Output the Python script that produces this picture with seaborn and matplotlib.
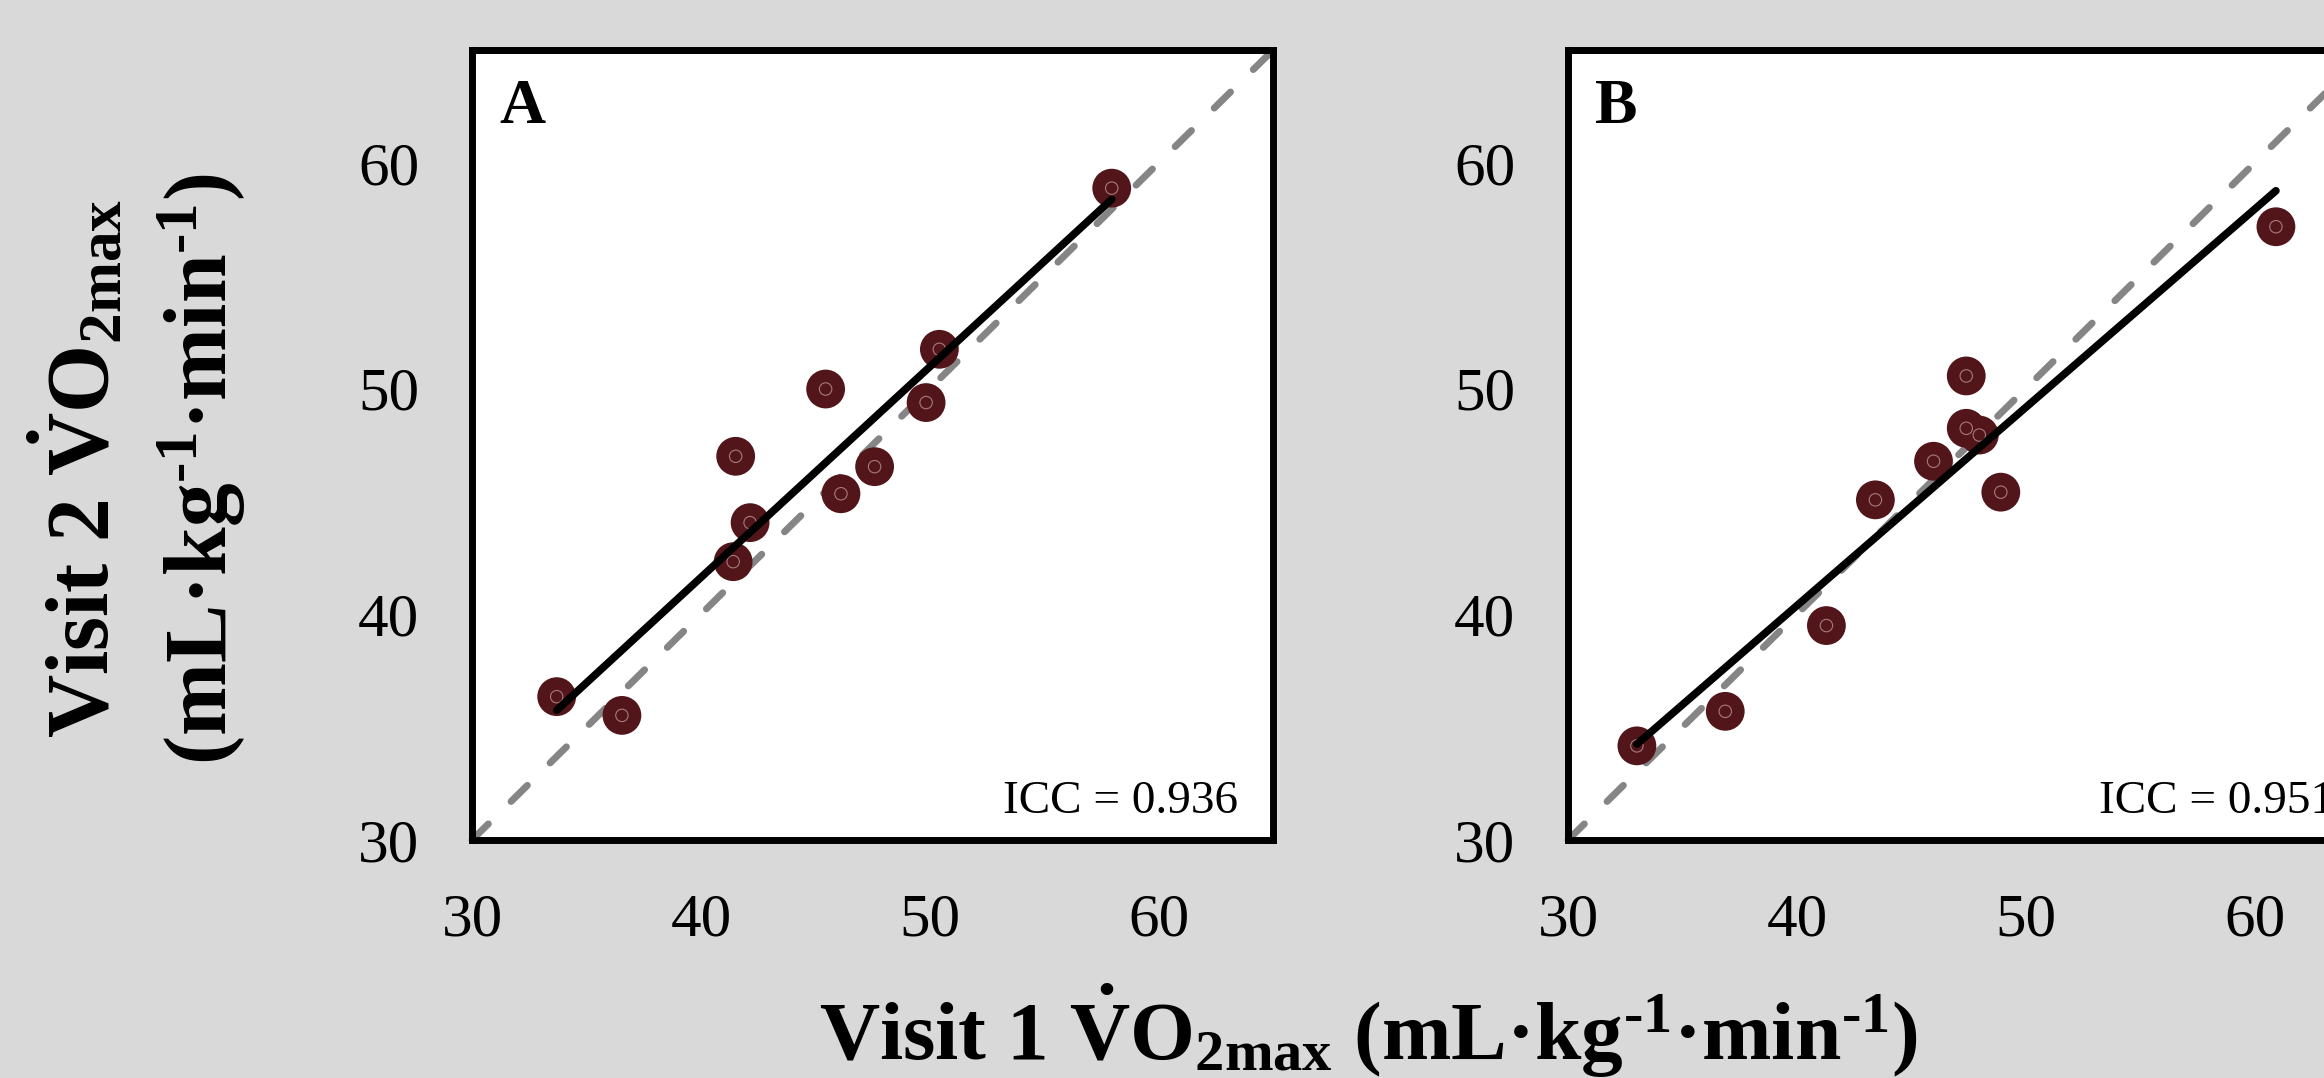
import numpy as np
import pandas as pd
import matplotlib
matplotlib.use('Agg')
import matplotlib.pyplot as plt
import seaborn as sns

# 两次测试的 VO2max 数据
visit1_a = [33.70, 36.55, 41.41, 42.15, 41.52, 45.45, 46.12, 47.59, 49.84, 50.42, 57.95]
visit2_a = [36.35, 35.52, 42.33, 44.06, 47.00, 49.98, 45.34, 46.54, 49.38, 51.74, 58.88]
visit1_b = [33.01, 36.87, 41.29, 43.43, 45.97, 47.40, 47.40, 47.97, 48.91, 60.93]
visit2_b = [34.17, 35.70, 39.50, 45.07, 46.78, 50.56, 48.24, 47.94, 45.41, 57.17]
panel_labels = ['A', 'B']
icc_values = ['0.936', '0.951']
tick_values = [30, 40, 50, 60]
axis_limits = [30, 65]

sns.set_style('white')
plt.rcParams['font.family'] = ['Liberation Serif', 'DejaVu Serif']
plt.rcParams['mathtext.fontset'] = 'custom'
plt.rcParams['mathtext.rm'] = 'Liberation Serif:bold'
plt.rcParams['mathtext.it'] = 'Liberation Serif:bold'
plt.rcParams['mathtext.bf'] = 'Liberation Serif:bold'
plt.rcParams['text.color'] = 'black'
plt.rcParams['xtick.color'] = 'black'
plt.rcParams['ytick.color'] = 'black'

marker_color = '#521519'
ring_color = '#a67a7e'
bg_color = '#d9d9d9'

fig = plt.figure(figsize=(23.24, 10.78), dpi=100, facecolor=bg_color)

panels = [
    (0.2031, visit1_a, visit2_a),
    (0.6747, visit1_b, visit2_b),
]

for i, (left, v1, v2) in enumerate(panels):
    df = pd.DataFrame({'v1': v1, 'v2': v2})
    ax = fig.add_axes([left, 0.2208, 0.3447, 0.7328])
    ax.set_facecolor('white')

    # 一致性参考线 y = x
    ax.plot(axis_limits, axis_limits, color='#858585', lw=5, dashes=(3.3, 4.6),
            dash_capstyle='round', zorder=1, clip_on=False)

    sns.scatterplot(data=df, x='v1', y='v2', s=780, color=marker_color,
                    edgecolor='none', linewidth=0, ax=ax, zorder=2, legend=False)
    ax.scatter(df['v1'], df['v2'], s=80, facecolors='none', edgecolors=ring_color,
               linewidths=0.8, zorder=2.1)

    # 线性回归线
    sns.regplot(data=df, x='v1', y='v2', scatter=False, ci=None, truncate=True, ax=ax,
                line_kws=dict(color='black', lw=5.5, solid_capstyle='round', zorder=3))

    ax.set_xlim(axis_limits)
    ax.set_ylim(axis_limits)
    ax.set_xticks(tick_values)
    ax.set_yticks(tick_values)
    ax.set_xlabel('')
    ax.set_ylabel('')
    ax.tick_params(length=0, pad=38, labelsize=44, colors='black')
    for sp in ax.spines.values():
        sp.set_visible(True)
        sp.set_color('black')
        sp.set_linewidth(5)

    ax.text(0.034, 0.908, panel_labels[i], transform=ax.transAxes, fontsize=46,
            fontweight='bold', ha='left', va='baseline')
    ax.text(0.956, 0.034, f'ICC = {icc_values[i]}', transform=ax.transAxes,
            fontsize=34, ha='right', va='baseline')

# 坐标轴标题（上标用连字符）
unit = '(mL·kg$^{\u20101}$·min$^{\u20101}$)'
fig.text(0.0470, 0.565, r'Visit 2 $\dot{V}$O$_{2max}$', rotation=90,
         rotation_mode='anchor', ha='center', va='baseline', fontsize=63, fontweight='bold')
fig.text(0.0975, 0.565, unit, rotation=90,
         rotation_mode='anchor', ha='center', va='baseline', fontsize=63, fontweight='bold')
fig.text(0.5886, 0.0167, r'Visit 1 $\dot{V}$O$_{2max}$ ' + unit,
         ha='center', va='baseline', fontsize=60, fontweight='bold')

fig.savefig('out.png', dpi=100, facecolor=bg_color)
